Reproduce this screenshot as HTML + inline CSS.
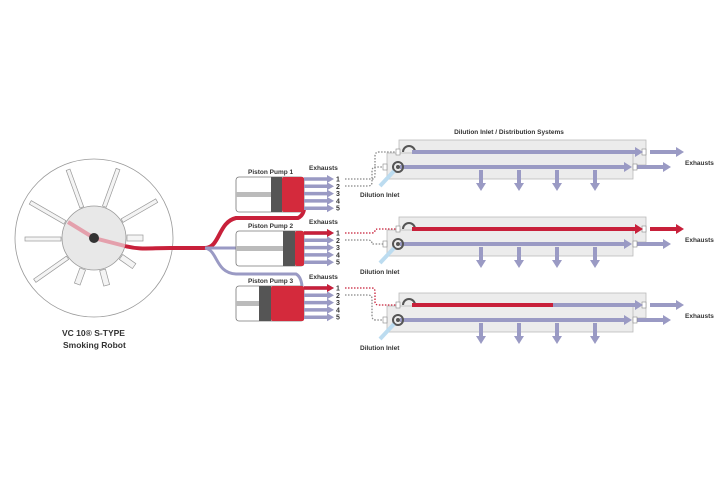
<!DOCTYPE html>
<html><head><meta charset="utf-8"><style>
html,body{margin:0;padding:0;background:#fff;}
svg{display:block;font-family:"Liberation Sans",sans-serif;}
text{font-weight:bold;fill:#333;}
</style></head><body>
<svg width="720" height="480" viewBox="0 0 720 480" xmlns="http://www.w3.org/2000/svg">
<defs>
<g id="pumparrows">
  <g stroke="#9a9ac4" stroke-width="3.5" fill="#9a9ac4">
    <line x1="304" y1="0" x2="328" y2="0"/><polygon points="327,-4 334,0 327,4" stroke="none"/>
    <line x1="304" y1="7.3" x2="328" y2="7.3"/><polygon points="327,3.3 334,7.3 327,11.3" stroke="none"/>
    <line x1="304" y1="14.6" x2="328" y2="14.6"/><polygon points="327,10.6 334,14.6 327,18.6" stroke="none"/>
    <line x1="304" y1="21.9" x2="328" y2="21.9"/><polygon points="327,17.9 334,21.9 327,25.9" stroke="none"/>
    <line x1="304" y1="29.2" x2="328" y2="29.2"/><polygon points="327,25.2 334,29.2 327,33.2" stroke="none"/>
  </g>
  <g font-size="7"><text x="336" y="2.5">1</text><text x="336" y="9.8">2</text><text x="336" y="17.1">3</text><text x="336" y="24.4">4</text><text x="336" y="31.7">5</text></g>
</g>
<g id="sys">
  <rect x="399" y="140" width="247" height="25" fill="#ececec" stroke="#bbb" stroke-width="0.8"/>
  <rect x="387" y="153" width="246" height="26" fill="#ececec" stroke="#bbb" stroke-width="0.8"/>
  <line x1="400" y1="167" x2="625" y2="167" stroke="#9a9ac4" stroke-width="4"/>
  <polygon points="624,162 632,167 624,172" fill="#9a9ac4"/>
  <line x1="637" y1="167" x2="664" y2="167" stroke="#9a9ac4" stroke-width="4"/>
  <polygon points="663,162 671,167 663,172" fill="#9a9ac4"/>
  <rect x="633" y="164" width="4" height="6" fill="#fff" stroke="#888" stroke-width="0.6"/>
  <rect x="383" y="164" width="4" height="6" fill="#fff" stroke="#888" stroke-width="0.6"/>
  <circle cx="398" cy="167" r="5" fill="none" stroke="#555" stroke-width="2"/>
  <circle cx="398" cy="167" r="2" fill="#555"/>
  <g fill="#9a9ac4" stroke="#9a9ac4" stroke-width="4">
    <line x1="481" y1="170" x2="481" y2="184"/><line x1="519" y1="170" x2="519" y2="184"/>
    <line x1="557" y1="170" x2="557" y2="184"/><line x1="595" y1="170" x2="595" y2="184"/>
  </g>
  <g fill="#9a9ac4">
    <polygon points="476,183 486,183 481,191"/><polygon points="514,183 524,183 519,191"/>
    <polygon points="552,183 562,183 557,191"/><polygon points="590,183 600,183 595,191"/>
  </g>
  <line x1="394" y1="171" x2="380" y2="186" stroke="#bcdcf0" stroke-width="4"/>
  <text x="360" y="197" font-size="6.5">Dilution Inlet</text>
  <text x="685" y="165" font-size="6.5">Exhausts</text>
  <rect x="642" y="149" width="4" height="6" fill="#fff" stroke="#888" stroke-width="0.6"/>
  <rect x="396" y="149" width="4" height="6" fill="#fff" stroke="#888" stroke-width="0.6"/>
  <path d="M403,152 a6,6 0 0 1 12,0" fill="none" stroke="#555" stroke-width="2"/>
</g>
</defs>

<!-- robot -->
<circle cx="94" cy="238" r="79" fill="#fff" stroke="#999" stroke-width="0.8"/>
<g stroke="#999" stroke-width="0.7" fill="#f4f4f4">
  <g transform="translate(94,238)">
    <rect x="33" y="-3" width="16" height="6" transform="rotate(0)"/>
    <rect x="33" y="-3" width="40" height="4" transform="rotate(-30)"/>
    <rect x="33" y="-3" width="40" height="4" transform="rotate(-70)"/>
    <rect x="33" y="-3" width="40" height="4" transform="rotate(-110)"/>
    <rect x="33" y="-3" width="40" height="4" transform="rotate(-150)"/>
    <rect x="33" y="-3" width="36" height="4" transform="rotate(180)"/>
    <rect x="33" y="-3" width="40" height="4" transform="rotate(145)"/>
    <rect x="33" y="-3" width="16" height="6" transform="rotate(110)"/>
    <rect x="33" y="-3" width="16" height="6" transform="rotate(75)"/>
    <rect x="33" y="-3" width="16" height="6" transform="rotate(35)"/>
  </g>
</g>
<circle cx="94" cy="238" r="32" fill="#e8e8e8" stroke="#999" stroke-width="0.8"/>
<path d="M68,222 L94,238 L125,246" fill="none" stroke="#e4a0ac" stroke-width="4"/>
<path d="M125,246 C140,250 150,248 170,248 L205,248 C220,248 218,222 236,218 L298,218 C302,216 304,212 304,208" fill="none" stroke="#c8203a" stroke-width="4"/>
<path d="M205,248 C215,248 218,248 236,248" fill="none" stroke="#9a9ac4" stroke-width="3"/>
<path d="M205,248 C218,250 215,273 236,274 L296,274 C300,276 302,282 302,288" fill="none" stroke="#9a9ac4" stroke-width="3"/>
<circle cx="94" cy="238" r="5" fill="#333"/>
<text x="62" y="336" font-size="8.5">VC 10® S-TYPE</text>
<text x="63" y="348" font-size="8.5">Smoking Robot</text>

<!-- pumps -->
<g>
  <rect x="236" y="177" width="68" height="35" rx="3" fill="#fff" stroke="#777" stroke-width="0.8"/>
  <rect x="236" y="192" width="35" height="5" fill="#bbb"/>
  <rect x="271" y="177" width="11" height="35" fill="#555"/>
  <rect x="282" y="177" width="22" height="35" rx="2" fill="#d42a3c"/>
  <text x="248" y="174" font-size="6.5">Piston Pump 1</text>
  <text x="309" y="170" font-size="6.5">Exhausts</text>
  <use href="#pumparrows" transform="translate(0,179)"/>
</g>
<g>
  <rect x="236" y="231" width="68" height="35" rx="3" fill="#fff" stroke="#777" stroke-width="0.8"/>
  <rect x="236" y="246" width="47" height="5" fill="#bbb"/>
  <rect x="283" y="231" width="12" height="35" fill="#555"/>
  <rect x="295" y="231" width="9" height="35" rx="2" fill="#d42a3c"/>
  <text x="248" y="228" font-size="6.5">Piston Pump 2</text>
  <text x="309" y="224" font-size="6.5">Exhausts</text>
  <use href="#pumparrows" transform="translate(0,233)"/>
  <line x1="304" y1="233" x2="328" y2="233" stroke="#c8203a" stroke-width="3.5"/>
  <polygon points="327,229 334,233 327,237" fill="#c8203a"/>
</g>
<g>
  <rect x="236" y="286" width="68" height="35" rx="3" fill="#fff" stroke="#777" stroke-width="0.8"/>
  <rect x="236" y="301" width="23" height="5" fill="#bbb"/>
  <rect x="259" y="286" width="12" height="35" fill="#555"/>
  <rect x="271" y="286" width="33" height="35" rx="2" fill="#d42a3c"/>
  <text x="248" y="283" font-size="6.5">Piston Pump 3</text>
  <text x="309" y="279" font-size="6.5">Exhausts</text>
  <use href="#pumparrows" transform="translate(0,288)"/>
  <line x1="304" y1="288" x2="328" y2="288" stroke="#c8203a" stroke-width="3.5"/>
  <polygon points="327,284 334,288 327,292" fill="#c8203a"/>
</g>

<text x="509" y="134" font-size="6.5" text-anchor="middle">Dilution Inlet / Distribution Systems</text>

<!-- systems -->
<use href="#sys"/>
<use href="#sys" transform="translate(0,77)"/>
<use href="#sys" transform="translate(0,153)"/>

<!-- system top arrows -->
<g>
  <line x1="412" y1="152" x2="636" y2="152" stroke="#9a9ac4" stroke-width="4"/>
  <polygon points="635,147 643,152 635,157" fill="#9a9ac4"/>
  <line x1="650" y1="152" x2="677" y2="152" stroke="#9a9ac4" stroke-width="4"/>
  <polygon points="676,147 684,152 676,157" fill="#9a9ac4"/>
  <line x1="412" y1="229" x2="636" y2="229" stroke="#c8203a" stroke-width="4"/>
  <polygon points="635,224 643,229 635,234" fill="#c8203a"/>
  <line x1="650" y1="229" x2="677" y2="229" stroke="#c8203a" stroke-width="4"/>
  <polygon points="676,224 684,229 676,234" fill="#c8203a"/>
  <line x1="412" y1="305" x2="553" y2="305" stroke="#c8203a" stroke-width="4"/>
  <line x1="553" y1="305" x2="636" y2="305" stroke="#9a9ac4" stroke-width="4"/>
  <polygon points="635,300 643,305 635,310" fill="#9a9ac4"/>
  <line x1="650" y1="305" x2="677" y2="305" stroke="#9a9ac4" stroke-width="4"/>
  <polygon points="676,300 684,305 676,310" fill="#9a9ac4"/>
</g>

<!-- dotted connectors -->
<g fill="none" stroke-width="1.3" stroke-dasharray="1.5,1.5">
  <path d="M345,179 L372,179 Q375,179 375,175 L375,156 Q375,152 379,152 L396,152" stroke="#888"/>
  <path d="M345,186 L368,186 Q372,186 372,182 L372,171 Q372,167 376,167 L383,167" stroke="#888"/>
  <path d="M345,233 L372,233 Q375,233 375,230 Q375,229 379,229 L396,229" stroke="#c8203a"/>
  <path d="M345,240 L368,240 Q372,240 372,244 Q372,244 376,244 L383,244" stroke="#888"/>
  <path d="M345,288 L372,288 Q375,288 375,292 L375,302 Q375,305 379,305 L396,305" stroke="#c8203a"/>
  <path d="M345,295 L368,295 Q372,295 372,299 L372,316 Q372,320 376,320 L383,320" stroke="#888"/>
</g>
</svg>
</body></html>
